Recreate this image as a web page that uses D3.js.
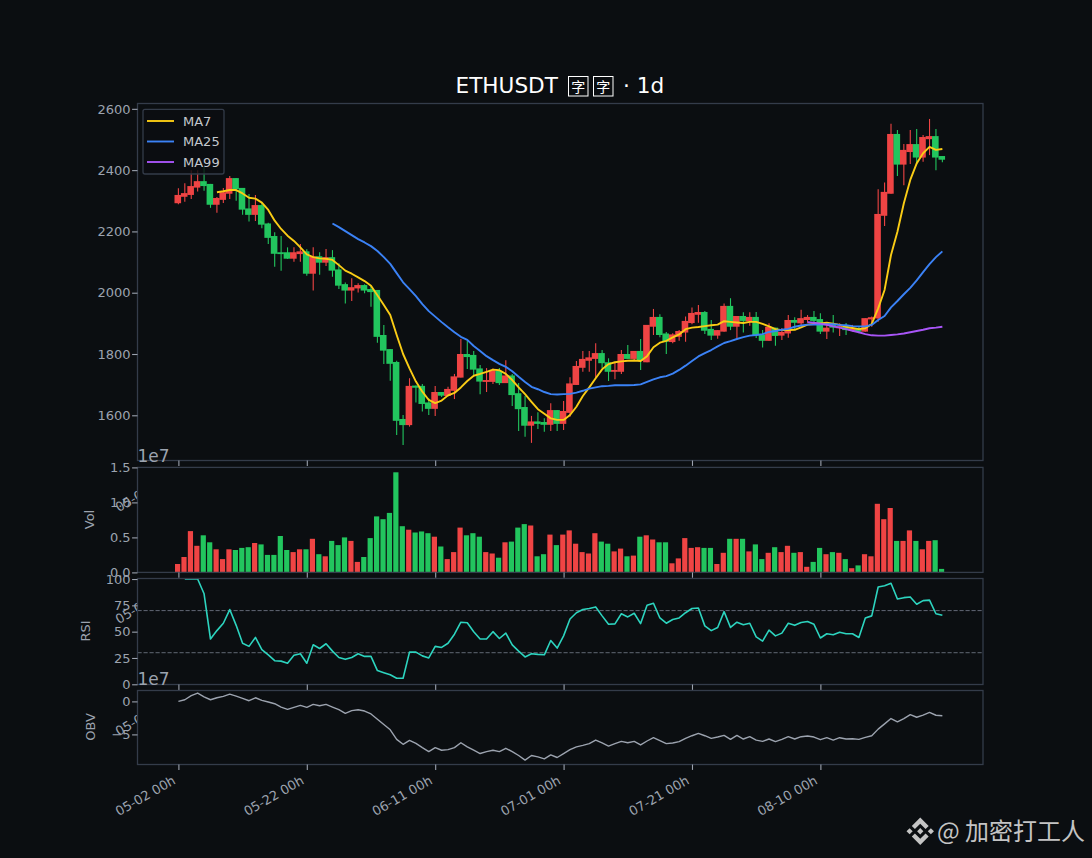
<!DOCTYPE html>
<html>
<head>
<meta charset="utf-8">
<script src="https://cdn.jsdelivr.net/npm/d3@7"></script>
<style>
  html, body { margin: 0; padding: 0; background: #0b0e11; }
  svg { display: block; font-family: "DejaVu Sans", sans-serif; }
</style>
</head>
<body>
<div id="chart"></div>
<script>
// candles, one row per day starting 05-02: values
const opens = [2292,2313,2319,2343,2364,2355,2287,2303,2323,2374,2342,2275,2254,2286,2226,2185,2132,2132,2111,2126,
  2135,2062,2119,2098,2116,2076,2028,2007,2014,2025,2012,2009,1862,1816,1774,1588,1568,1697,1696,1642,
  1621,1676,1663,1680,1723,1800,1797,1753,1709,1709,1745,1705,1730,1672,1627,1566,1580,1578,1569,1617,
  1572,1608,1699,1755,1778,1784,1803,1773,1742,1742,1800,1784,1810,1773,1889,1921,1867,1839,1856,1870,
  1901,1928,1937,1882,1860,1873,1957,1889,1924,1907,1921,1864,1843,1886,1860,1867,1911,1900,1911,1921,
  1914,1873,1897,1884,1889,1876,1884,1873,1913,1916,2251,2323,2518,2418,2459,2485,2441,2501,2511,2446];
const highs = [2341,2357,2400,2400,2411,2355,2312,2342,2381,2374,2342,2322,2319,2293,2228,2197,2185,2148,2148,2159,
  2142,2148,2132,2143,2139,2096,2033,2047,2031,2028,2022,2009,1895,1816,1778,1601,1721,1697,1702,1656,
  1696,1676,1693,1735,1849,1843,1810,1764,1754,1753,1754,1780,1735,1705,1663,1598,1610,1590,1639,1617,
  1647,1724,1777,1810,1810,1835,1813,1786,1771,1813,1829,1810,1849,1895,1947,1930,1872,1868,1878,1922,
  1952,1960,1940,1911,1878,1965,1982,1924,1936,1936,1937,1878,1900,1886,1885,1927,1920,1944,1927,1940,
  1933,1901,1927,1900,1901,1895,1891,1917,1922,2338,2360,2551,2531,2485,2531,2534,2515,2567,2534,2446];
const lows = [2289,2297,2306,2330,2333,2277,2261,2293,2306,2300,2254,2232,2234,2210,2159,2085,2072,2110,2101,2101,
  2055,2007,2059,2087,2052,2012,1965,1973,2001,1998,1954,1837,1767,1713,1536,1503,1563,1642,1612,1601,
  1598,1660,1661,1653,1723,1751,1731,1669,1676,1702,1699,1705,1630,1549,1530,1510,1555,1546,1549,1549,
  1552,1595,1699,1742,1742,1722,1754,1712,1718,1735,1784,1778,1748,1773,1862,1855,1800,1835,1843,1840,
  1897,1902,1865,1846,1850,1873,1878,1851,1870,1892,1852,1821,1843,1827,1846,1853,1878,1885,1902,1900,
  1865,1849,1870,1859,1862,1873,1868,1873,1889,1905,2218,2323,2381,2351,2420,2419,2427,2449,2400,2426];
const closes = [2319,2325,2348,2364,2348,2287,2309,2328,2374,2338,2271,2254,2286,2222,2179,2127,2126,2111,2132,2135,
  2062,2118,2098,2116,2072,2023,2007,2018,2025,2007,2002,1856,1811,1768,1582,1568,1696,1690,1637,1621,
  1676,1664,1686,1727,1800,1790,1749,1710,1715,1747,1705,1730,1666,1620,1566,1580,1572,1569,1617,1572,
  1614,1704,1761,1784,1789,1803,1770,1742,1748,1800,1784,1810,1778,1895,1921,1862,1840,1864,1875,1908,
  1934,1937,1876,1860,1878,1957,1889,1924,1908,1921,1860,1843,1889,1859,1872,1911,1902,1917,1921,1908,
  1873,1886,1886,1891,1878,1884,1873,1917,1920,2257,2329,2518,2418,2466,2485,2441,2508,2511,2441,2434];

// volume in units of 1e7
const volumes = [0.12,0.22,0.59,0.38,0.53,0.43,0.33,0.19,0.33,0.32,0.35,0.36,0.42,0.40,0.25,0.25,0.52,0.32,0.29,0.33,
  0.33,0.48,0.26,0.23,0.45,0.39,0.50,0.45,0.15,0.22,0.49,0.80,0.76,0.85,1.43,0.66,0.61,0.57,0.585,0.56,
  0.51,0.37,0.19,0.29,0.64,0.53,0.56,0.51,0.29,0.27,0.21,0.43,0.44,0.64,0.69,0.67,0.23,0.26,0.54,0.39,
  0.54,0.60,0.41,0.29,0.27,0.56,0.44,0.41,0.30,0.34,0.23,0.24,0.51,0.53,0.47,0.43,0.43,0.13,0.20,0.49,
  0.35,0.36,0.35,0.35,0.12,0.28,0.48,0.48,0.48,0.30,0.40,0.19,0.28,0.36,0.29,0.38,0.28,0.29,0.08,0.15,
  0.35,0.26,0.29,0.28,0.19,0.06,0.10,0.26,0.23,0.98,0.76,0.92,0.45,0.45,0.60,0.45,0.33,0.45,0.46,0.05];

// moving averages, each starts at its own day index
const ma7Start = 6;
const ma7 = [2328,2331,2335,2335,2324,2310,2307,2294,2270,2235,2208,2186,2169,2148,2125,2116,2112,2111,2107,2090,
  2072,2062,2050,2038,2023,1992,1960,1927,1862,1800,1753,1710,1677,1650,1640,1648,1665,1673,1691,1712,
  1729,1735,1742,1749,1747,1735,1715,1691,1669,1644,1620,1605,1590,1585,1585,1601,1628,1663,1691,1721,
  1750,1767,1773,1776,1778,1779,1777,1793,1822,1837,1843,1854,1864,1881,1886,1888,1891,1894,1896,1907,
  1905,1903,1901,1905,1905,1898,1890,1881,1878,1878,1879,1887,1896,1898,1900,1902,1899,1895,1889,1885,
  1881,1884,1898,1949,2009,2123,2199,2292,2368,2422,2455,2476,2466,2469];
const ma25Start = 24;
const ma25 = [2226,2214,2201,2188,2175,2164,2152,2136,2116,2094,2064,2034,2012,1989,1963,1940,1922,1904,1887,1871,
  1856,1846,1826,1810,1793,1780,1768,1758,1744,1726,1709,1693,1685,1676,1669,1668,1669,1670,1674,1680,
  1687,1691,1695,1696,1698,1698,1698,1699,1701,1709,1717,1724,1728,1736,1748,1762,1777,1792,1803,1813,
  1825,1836,1842,1849,1855,1860,1862,1865,1872,1875,1879,1882,1889,1893,1896,1896,1896,1897,1897,1895,
  1894,1891,1890,1890,1895,1911,1924,1952,1973,1995,2016,2040,2067,2093,2116,2135];
const ma99Start = 98;
const ma99 = [1904,1902,1899,1895,1890,1886,1881,1876,1871,1865,1861,1860,1860,1862,1864,1867,1871,1875,1879,1884,1886,1889];

const rsiStart = 1;
const rsi = [100,100,100,86,43,51,58,71,56,39,36,44.5,33,28,22.4,22,20,27.5,29,20,
  37.5,34,38.5,31.5,25.5,23.7,25.5,29,26.5,26.5,13,11,9,5.7,5.7,30.6,30.6,27,25,36,
  35,39,47.6,59,58.4,50,43,43,50,43.5,48.6,37.5,31.5,26,29,28.4,28,41.6,34.4,46,
  62,68,71,72,73.5,65,57,57.4,67,64,67.5,57.7,75,77,63,58,61.5,63,68,72,
  72.5,55.5,51,54,69,54,59,56.5,58,45,41,51.4,46,48.6,58,56,58.7,59.6,57,44,
  48,47,49.5,48,48,44.5,63,65,92.4,93.7,96,81,82.3,83,76,79.5,80,67,65.6];

// on balance volume in units of 1e7
const obv = [0,0.25,0.86,1.26,0.7,0.25,0.55,0.76,1.1,0.8,0.45,0.1,0.55,0.15,-0.1,-0.35,-0.86,-1.2,-0.9,-0.6,
  -0.9,-0.45,-0.66,-0.45,-0.86,-1.26,-1.8,-1.4,-1.26,-1.46,-1.9,-2.7,-3.5,-4.3,-5.75,-6.5,-5.9,-6.36,-7,-7.6,
  -7,-7.4,-7.3,-7,-6.26,-6.9,-7.4,-7.9,-7.6,-7.4,-7.6,-7.1,-7.6,-8.2,-8.9,-8.2,-8.4,-8.7,-8.1,-8.5,
  -7.9,-7.3,-6.9,-6.67,-6.4,-5.86,-6.3,-6.77,-6.4,-6.06,-6.26,-6.06,-6.6,-6,-5.5,-5.96,-6.4,-6.3,-6.1,-5.6,
  -5.2,-4.85,-5.2,-5.6,-5.4,-5.15,-5.76,-5.15,-5.7,-5.35,-5.86,-6.06,-5.7,-6.1,-5.76,-5.35,-5.7,-5.35,-5.25,-5.4,
  -5.8,-5.5,-5.86,-5.5,-5.7,-5.66,-5.76,-5.45,-5.2,-4.2,-3.4,-2.6,-3.1,-2.6,-2,-2.4,-2.07,-1.67,-2.1,-2.17];

const tickDays = [0,20,40,60,80,100];
const tickLabels = ["05-02 00h","05-22 00h","06-11 00h","07-01 00h","07-21 00h","08-10 00h"];
const priceTicks = [1600,1800,2000,2200,2400,2600];
const volTicks = [0,0.5,1,1.5];
const rsiTicks = [0,25,50,75,100];
const rsiLevels = [30,70];
const obvTicks = [-5,0];
const legendNames = ["MA7","MA25","MA99"];

const bg = "#0b0e11", spine = "#343c4a", textCol = "#9ca3af",
      upCol = "#ef4444", downCol = "#22c55e",
      ma7Col = "#facc15", ma25Col = "#3b82f6", ma99Col = "#a855f7",
      rsiCol = "#2dd4bf", obvCol = "#9ca3af";

const width = 1092, height = 858;
const left = 137.5, right = 983;

const svg = d3.select("#chart").append("svg")
  .attr("width", width).attr("height", height)
  .attr("viewBox", `0 0 ${width} ${height}`);

svg.append("rect").attr("width", width).attr("height", height).attr("fill", bg);

const x = d3.scaleLinear().domain([-6.37, 125.33]).range([left, right]);

// one panel: background first so it hides the labels of the panel above, same as sharex subplots
function makePanel(top, bottom, domain, ticks, fmt) {
  const g = svg.append("g");
  const y = d3.scaleLinear().domain(domain).range([bottom, top]);
  g.append("rect").attr("x", left).attr("y", top)
    .attr("width", right - left).attr("height", bottom - top).attr("fill", bg);

  const marks = g.append("g");

  g.append("rect").attr("x", left).attr("y", top)
    .attr("width", right - left).attr("height", bottom - top)
    .attr("fill", "none").attr("stroke", spine).attr("stroke-width", 1.3);

  // d3 axes set their own font-family, drop it so the svg one applies
  const yAxis = g.append("g").attr("transform", `translate(${left},0)`)
    .call(d3.axisLeft(y).tickValues(ticks).tickFormat(fmt).tickSize(5.4).tickPadding(1.5))
    .attr("font-family", null);
  yAxis.select(".domain").remove();
  yAxis.selectAll("line").attr("stroke", textCol).attr("stroke-width", 1.1);
  yAxis.selectAll("text").attr("fill", textCol).style("font-size", "13px");

  const xAxis = g.append("g").attr("transform", `translate(0,${bottom})`)
    .call(d3.axisBottom(x).tickValues(tickDays).tickFormat((d, i) => tickLabels[i]).tickSize(5.4))
    .attr("font-family", null);
  xAxis.select(".domain").remove();
  xAxis.selectAll("line").attr("stroke", textCol).attr("stroke-width", 1.1);
  xAxis.selectAll("text")
    .attr("fill", textCol).style("font-size", "13px")
    .attr("text-anchor", "end")
    .attr("x", 0).attr("y", 0).attr("dy", 0)
    .attr("transform", "translate(-2.4,18.5) rotate(-30)");

  return {marks, y};
}

function addYLabel(text, px, py) {
  svg.append("text")
    .attr("transform", `translate(${px},${py}) rotate(-90)`)
    .attr("text-anchor", "middle")
    .attr("fill", textCol).style("font-size", "13px")
    .text(text);
}

function addOffset(py) {
  svg.append("text").attr("x", left).attr("y", py)
    .attr("fill", textCol).style("font-size", "17px").text("1e7");
}

// ---- price panel
const main = makePanel(103.5, 460.5, [1452.5, 2617.4], priceTicks, d3.format("d"));
const days = d3.range(opens.length);
const bodyW = 6.6;

main.marks.selectAll(".wick").data(days).enter().append("line")
  .attr("class", "wick")
  .attr("x1", d => x(d)).attr("x2", d => x(d))
  .attr("y1", d => main.y(highs[d])).attr("y2", d => main.y(lows[d]))
  .attr("stroke", d => closes[d] >= opens[d] ? upCol : downCol)
  .attr("stroke-width", 1.1);

main.marks.selectAll(".body").data(days).enter().append("rect")
  .attr("class", "body")
  .attr("x", d => x(d) - 0.6 - bodyW / 2)
  .attr("width", bodyW)
  .attr("y", d => main.y(Math.max(opens[d], closes[d])))
  .attr("height", d => Math.max(1, Math.abs(main.y(opens[d]) - main.y(closes[d]))))
  .attr("fill", d => closes[d] >= opens[d] ? upCol : downCol);

function drawLine(panel, values, start, color, w) {
  const line = d3.line().x((d, i) => x(i + start)).y(d => panel.y(d));
  panel.marks.append("path").datum(values)
    .attr("d", line).attr("fill", "none")
    .attr("stroke", color).attr("stroke-width", w)
    .attr("stroke-linejoin", "round");
}

drawLine(main, ma7, ma7Start, ma7Col, 1.9);
drawLine(main, ma25, ma25Start, ma25Col, 1.9);
drawLine(main, ma99, ma99Start, ma99Col, 1.9);

// legend, slightly see through like the framealpha in the source
const legend = main.marks.append("g");
legend.append("rect").attr("x", 143).attr("y", 109.3)
  .attr("width", 81).attr("height", 64.7).attr("rx", 2)
  .attr("fill", bg).attr("fill-opacity", 0.8)
  .attr("stroke", spine).attr("stroke-width", 1.3);
const legendY = d3.scalePoint().domain(legendNames).range([121, 162]);
const legendCols = [ma7Col, ma25Col, ma99Col];
legendNames.forEach((name, i) => {
  legend.append("line")
    .attr("x1", 147).attr("x2", 174)
    .attr("y1", legendY(name)).attr("y2", legendY(name))
    .attr("stroke", legendCols[i]).attr("stroke-width", 1.9);
  legend.append("text").attr("x", 183).attr("y", legendY(name) + 4.5)
    .attr("fill", "#c4c8ce").style("font-size", "13px").text(name);
});

// ---- volume panel
const volP = makePanel(467.4, 572.4, [0, 1.5], volTicks, d3.format(".1f"));
volP.marks.selectAll("rect").data(days).enter().append("rect")
  .attr("x", d => x(d) - 0.8 - 2.6)
  .attr("width", 5.2)
  .attr("y", d => volP.y(volumes[d]))
  .attr("height", d => volP.y(0) - volP.y(volumes[d]))
  .attr("fill", d => closes[d] >= opens[d] ? upCol : downCol);
addOffset(461.5);
addYLabel("Vol", 94, 519.5);

// ---- rsi panel, domain a touch over 100 so the flat start clears the spine
const rsiP = makePanel(578.5, 684.5, [-0.2, 100.5], rsiTicks, d3.format("d"));
rsiP.marks.selectAll("line").data(rsiLevels).enter().append("line")
  .attr("x1", left).attr("x2", right)
  .attr("y1", d => rsiP.y(d)).attr("y2", d => rsiP.y(d))
  .attr("stroke", "#6b7280").attr("stroke-width", 0.9)
  .attr("stroke-dasharray", "4.2,1.8");
drawLine(rsiP, rsi, rsiStart, rsiCol, 1.6);
addOffset(684.5);
addYLabel("RSI", 90, 631);

// ---- obv panel
const obvP = makePanel(690.5, 764.5, [-9.56, 1.65], obvTicks, d3.format("d"));
drawLine(obvP, obv, 0, obvCol, 1.4);
addYLabel("OBV", 95, 727);

// ---- title, the two boxes stand in for glyphs the source font did not have
svg.append("text").attr("x", 455.5).attr("y", 92.5)
  .attr("fill", "#fff").style("font-size", "21.6px").text("ETHUSDT");
[568, 593].forEach(bx => {
  svg.append("rect").attr("x", bx + 0.5).attr("y", 76.5)
    .attr("width", 19.5).attr("height", 19.5)
    .attr("fill", "none").attr("stroke", "#fff").attr("stroke-width", 1);
  svg.append("text").attr("x", bx + 10.2).attr("y", 91.5)
    .attr("text-anchor", "middle").attr("fill", "#fff")
    .style("font-family", '"Noto Sans CJK SC"').style("font-size", "14px")
    .text("字");
});
svg.append("text").attr("x", 623).attr("y", 92.5)
  .attr("fill", "#fff").style("font-size", "21.6px").text("· 1d");

// ---- watermark
const logo = svg.append("g")
  .attr("transform", "translate(906.5,817.5) scale(0.217)")
  .attr("fill", "#c4c4c4");
logo.append("path").attr("d", "M38.73 53.2l24.59-24.58 24.6 24.6 14.3-14.31L63.32 0 24.42 38.9zM0 63.31l14.3-14.31 14.31 14.31-14.31 14.3zM38.73 73.41l24.59 24.59 24.6-24.6 14.31 14.29-38.9 38.91-38.91-38.88zM98 63.31l14.3-14.31 14.31 14.3-14.31 14.3z");
logo.append("path").attr("d", "M77.83 63.3L63.32 48.78 52.59 59.51l-1.24 1.23-2.54 2.54 14.51 14.5 14.51-14.47z");
svg.append("text").attr("x", 937).attr("y", 840)
  .attr("fill", "#c4c4c4")
  .style("font-family", '"Noto Sans CJK SC"').style("font-size", "24px")
  .text("@ 加密打工人");
</script>
</body>
</html>
